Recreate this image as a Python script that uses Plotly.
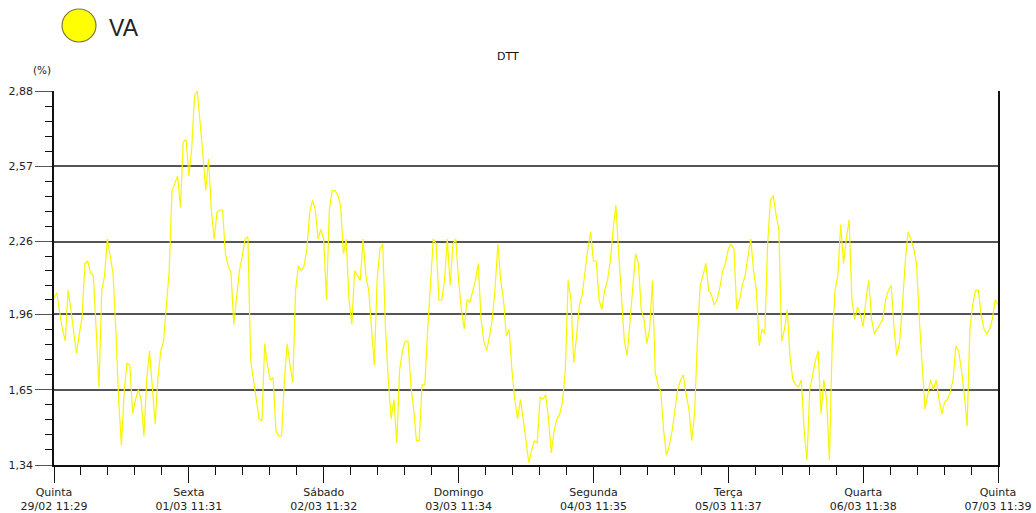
import pandas as pd
import plotly.graph_objects as go

# ---- data ----
series_name = "VA"
chart_title = "DTT"
unit_label = "(%)"
start_time = "2024-02-29 11:29"
end_time = "2024-03-07 11:39"

va_values = [
    2.03, 2.05, 1.97, 1.90, 1.85, 2.06, 1.98, 1.90, 1.80, 1.88, 1.95, 2.17, 2.18, 2.13, 2.12, 1.90, 1.66, 2.06, 2.12, 2.27,
    2.20, 2.13, 1.90, 1.61, 1.42, 1.65, 1.76, 1.75, 1.55, 1.61, 1.65, 1.61, 1.46, 1.69, 1.81, 1.65, 1.51, 1.70, 1.81, 1.85,
    1.98, 2.14, 2.47, 2.50, 2.53, 2.40, 2.67, 2.68, 2.53, 2.64, 2.86, 2.88, 2.76, 2.62, 2.47, 2.60, 2.39, 2.27, 2.38, 2.39,
    2.39, 2.21, 2.16, 2.13, 1.92, 2.02, 2.14, 2.20, 2.27, 2.28, 1.77, 1.69, 1.61, 1.53, 1.52, 1.84, 1.75, 1.69, 1.70, 1.48,
    1.46, 1.46, 1.69, 1.84, 1.75, 1.68, 2.06, 2.16, 2.14, 2.16, 2.23, 2.38, 2.43, 2.39, 2.27, 2.31, 2.27, 2.02, 2.39, 2.47,
    2.47, 2.45, 2.41, 2.21, 2.27, 2.02, 1.92, 2.14, 2.12, 2.10, 2.27, 2.12, 2.06, 1.90, 1.75, 2.10, 2.23, 2.25, 1.90, 1.69,
    1.53, 1.61, 1.43, 1.73, 1.81, 1.85, 1.85, 1.67, 1.57, 1.44, 1.44, 1.67, 1.67, 1.90, 2.10, 2.27, 2.25, 2.02, 2.02, 2.10,
    2.27, 2.08, 2.25, 2.27, 2.10, 1.98, 1.90, 2.02, 2.01, 2.06, 2.10, 2.17, 1.94, 1.85, 1.81, 1.87, 1.94, 2.07, 2.25, 2.10,
    2.02, 1.87, 1.90, 1.73, 1.61, 1.53, 1.61, 1.53, 1.44, 1.35, 1.40, 1.44, 1.43, 1.62, 1.61, 1.63, 1.53, 1.39, 1.48, 1.53,
    1.55, 1.60, 1.73, 2.10, 2.02, 1.76, 1.87, 2.00, 2.04, 2.14, 2.23, 2.30, 2.18, 2.18, 2.02, 1.98, 2.06, 2.10, 2.18, 2.31,
    2.41, 2.21, 2.02, 1.85, 1.79, 1.94, 2.06, 2.21, 2.17, 1.98, 1.94, 1.84, 1.90, 2.10, 1.72, 1.67, 1.64, 1.48, 1.38, 1.42,
    1.48, 1.57, 1.65, 1.69, 1.71, 1.63, 1.57, 1.44, 1.55, 1.85, 2.08, 2.12, 2.17, 2.06, 2.04, 2.00, 2.02, 2.07, 2.14, 2.17,
    2.23, 2.25, 2.23, 1.98, 2.02, 2.08, 2.12, 2.20, 2.27, 2.14, 2.06, 1.83, 1.90, 1.88, 2.25, 2.43, 2.45, 2.37, 2.31, 1.85,
    1.90, 1.98, 1.78, 1.69, 1.67, 1.66, 1.69, 1.48, 1.36, 1.65, 1.71, 1.77, 1.81, 1.55, 1.69, 1.61, 1.36, 1.85, 2.06, 2.12,
    2.33, 2.17, 2.27, 2.35, 2.02, 1.94, 1.99, 1.96, 1.91, 2.02, 2.10, 1.94, 1.88, 1.90, 1.92, 1.94, 2.02, 2.06, 2.08, 1.90,
    1.79, 1.85, 2.00, 2.18, 2.30, 2.27, 2.23, 2.17, 1.94, 1.77, 1.57, 1.63, 1.69, 1.65, 1.69, 1.61, 1.55, 1.60, 1.61, 1.64,
    1.69, 1.83, 1.81, 1.73, 1.63, 1.50, 1.90, 2.00, 2.06, 2.06, 1.96, 1.90, 1.88, 1.90, 1.94, 2.02,
    2.00,
]

tick_times = [
    "2024-02-29 11:29", "2024-03-01 11:31", "2024-03-02 11:32", "2024-03-03 11:34",
    "2024-03-04 11:35", "2024-03-05 11:37", "2024-03-06 11:38", "2024-03-07 11:39",
]
day_names = ["Quinta", "Sexta", "Sábado", "Domingo", "Segunda", "Terça", "Quarta", "Quinta"]
date_labels = ["29/02 11:29", "01/03 11:31", "02/03 11:32", "03/03 11:34",
               "04/03 11:35", "05/03 11:37", "06/03 11:38", "07/03 11:39"]

y_ticks = [1.34, 1.65, 1.96, 2.26, 2.57, 2.88]
y_tick_text = ["1,34", "1,65", "1,96", "2,26", "2,57", "2,88"]

# ---- build ----
times = pd.date_range(start_time, end_time, periods=len(va_values))
tick_dt = pd.to_datetime(tick_times)

x_minor = []
for a, b in zip(tick_dt[:-1], tick_dt[1:]):
    for k in range(1, 5):
        x_minor.append(a + (b - a) * k / 5)

y_minor = []
for a, b in zip(y_ticks[:-1], y_ticks[1:]):
    for k in range(1, 5):
        y_minor.append(a + (b - a) * k / 5)

fig = go.Figure()
fig.add_trace(go.Scatter(
    x=times, y=va_values, mode="lines", name=series_name,
    line=dict(color="#F6F600", width=1.2), showlegend=False,
))

font_fam = "DejaVu Sans"
fig.update_layout(
    width=1036, height=513,
    margin=dict(l=54, r=38, t=91, b=48, autoexpand=False),
    paper_bgcolor="white", plot_bgcolor="white",
    font=dict(family=font_fam, size=11, color="#222"),
    xaxis=dict(
        range=[tick_dt[0], tick_dt[-1]], automargin=False,
        tickmode="array", tickvals=tick_dt,
        ticktext=[f"{d}<br>{t}" for d, t in zip(day_names, date_labels)],
        ticks="outside", ticklen=16, tickwidth=1.3, tickcolor="#111",
        showline=True, linecolor="#111", linewidth=1.6,
        showgrid=False, zeroline=False,
        minor=dict(tickmode="array", tickvals=x_minor, ticks="outside",
                   ticklen=8, tickwidth=1.3, tickcolor="#111", showgrid=False),
        tickfont=dict(size=11, color="#222"),
    ),
    yaxis=dict(
        range=[1.34, 2.88], automargin=False,
        tickmode="array", tickvals=y_ticks, ticktext=y_tick_text,
        ticks="outside", ticklen=17, tickwidth=1.3, tickcolor="#555",
        showline=True, linecolor="#111", linewidth=1.6, mirror=True,
        showgrid=True, gridcolor="#555", gridwidth=1.5, zeroline=False,
        minor=dict(tickmode="array", tickvals=y_minor, ticks="outside",
                   ticklen=7, tickwidth=1.3, tickcolor="#111", showgrid=False),
        tickfont=dict(size=11, color="#222"),
    ),
    shapes=[
        dict(type="circle", xref="paper", yref="paper",
             x0=(62 - 54) / 944, x1=(96 - 54) / 944,
             y0=(465 - 42) / 374, y1=(465 - 9) / 374,
             fillcolor="#FFFF00", line=dict(color="#7a7a40", width=1.2)),
    ],
    annotations=[
        dict(text=series_name, xref="paper", yref="paper",
             x=(107 - 54) / 944, y=(465 - 28) / 374, xanchor="left", yanchor="middle",
             showarrow=False, font=dict(family="Liberation Sans", size=23, color="#222")),
        dict(text=chart_title, xref="paper", yref="paper",
             x=(508 - 54) / 944, y=(465 - 56) / 374, xanchor="center", yanchor="middle",
             showarrow=False, font=dict(family=font_fam, size=11, color="#111")),
        dict(text=unit_label, xref="paper", yref="paper",
             x=(42 - 54) / 944, y=(465 - 70) / 374, xanchor="center", yanchor="middle",
             showarrow=False, font=dict(family=font_fam, size=10.5, color="#222")),
    ],
)

fig.write_html("out.html")
